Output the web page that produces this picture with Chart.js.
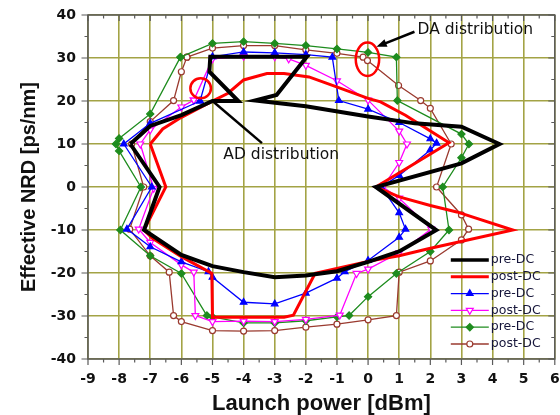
<!DOCTYPE html>
<html>
<head>
<meta charset="utf-8">
<script src="https://cdn.jsdelivr.net/npm/chart.js@4.4.0/dist/chart.umd.min.js"></script>
<style>
  body { margin: 0; background: #fff; }
  #wrap { width: 560px; height: 415px; }
</style>
</head>
<body>
<div id="wrap"><canvas id="chart" width="560" height="415"></canvas></div>
<script>
// axis ranges
const xMin = -9, xMax = 6, xStep = 0.5;
const yMin = -40, yMax = 40, yStep = 5;

const seriesNames = ['pre-DC', 'post-DC', 'pre-DC', 'post-DC', 'pre-DC', 'post-DC'];

// black, thick
const preDcAX = [-7.64, -7, -6, -5, -4.17, -5.1, -5.07, -1.97, -2.94, -3.63, -2, 0, 1.5, 3, 4.22, 3, 0.25, 2.19, 1, 0, -1, -2, -3, -4, -5, -6, -7.2, -6.7, -7.64];
const preDcAY = [10, 14.2, 16.7, 20, 20, 26.8, 30.3, 30.3, 21.4, 20.1, 18.8, 16.4, 14.8, 14, 10, 5.5, 0, -10, -15, -17.4, -19.6, -20.6, -21, -19.8, -18.4, -15.8, -10, 0, 10];

// red, thick
const postDcAX = [-7, -6.6, -6, -5.05, -4.5, -4, -3.25, -2.7, -1.9, -1.1, 0, 0.4, 1.2, 2.6, 0.25, 1, 2, 2.85, 4.65, 1.9, 1, 0, -1.7, -2.4, -2.7, -5, -5.02, -6, -6.94, -7.2, -6.5, -7];
const postDcAY = [10, 13.5, 16.2, 19.8, 21.8, 24.9, 26.4, 26.4, 25.6, 23.5, 20.6, 19.8, 16.7, 10.3, 0, -2.3, -4.3, -5.8, -10, -14.4, -16, -17.3, -20.1, -29.8, -30.3, -30.3, -20.1, -16.2, -11.9, -10, 0, 10];

// blue, filled triangles
const preDcBX = [-5.4, -5, -4, -3, -2, -1.15, -0.94, 0, 1, 2, 2.2, 2, 1, 0.42, 1, 1.2, 1, 0, -0.75, -1, -2, -3, -4, -5, -5.13, -6, -7, -7.75, -6.95, -7.85, -7, -5.4];
const preDcBY = [20, 30.3, 31.4, 31.2, 30.8, 30.2, 20.1, 18.1, 15, 11.2, 10.2, 8.6, 2.7, 0, -6, -9.8, -11.7, -17.1, -19.7, -21.2, -24.7, -27.2, -26.8, -21, -19.7, -17.4, -13.9, -9.8, 0, 10, 14.8, 20];

// magenta, open down triangles
const postDcBX = [-5.6, -5, -4, -3, -2.55, -2, -1, 0, 1, 1.25, 1, 0.48, 1, 2.03, 1, 0, -0.37, -0.91, -2, -3, -4, -5, -5.55, -5.6, -6, -7, -7.37, -6.89, -7.32, -7, -6, -5.6];
const postDcBY = [20.2, 29.8, 30.4, 30.3, 29.8, 28.3, 24.7, 20.2, 13, 10, 5.7, 0, -2.6, -9.8, -15.3, -19.1, -20.1, -29.8, -30.8, -31.3, -31.2, -31.3, -29.9, -19.8, -18.1, -12.9, -9.8, -0.3, 10, 13.3, 18.6, 20.2];

// green, filled diamonds
const preDcCX = [-6.03, -5, -4, -3, -2, -1, 0, 0.91, 0.94, 3, 3.24, 3, 2.4, 2.6, 2, 0.91, 0, -0.61, -1, -2, -3, -4, -5, -5.18, -6, -7, -7.96, -7.3, -8, -8.1, -8, -7, -6.03];
const preDcCY = [30.2, 33.4, 33.8, 33.4, 32.9, 32.1, 31.3, 30.2, 20.1, 12.3, 10, 6.8, 0, -10, -15, -20.1, -25.5, -29.9, -30.2, -31.1, -31.6, -31.6, -30.2, -29.9, -20.1, -16, -10, 0, 8.4, 10, 11.3, 17, 30.2];

// brown, open circles
const postDcCX = [-5.82, -5, -4, -3, -2, -1, -0.16, -0.02, 0.98, 1.69, 2, 2.67, 2.2, 3, 3.23, 3, 2, 1, 0.91, 0, -1, -2, -3, -4, -5, -6, -6.25, -6.39, -7, -7.66, -7.21, -7.6, -7, -6.25, -6, -5.82];
const postDcCY = [30.2, 32.3, 32.9, 32.9, 31.9, 31.1, 30.2, 29.4, 23.6, 20.1, 18.3, 10, 0, -6.5, -9.8, -12.3, -17.2, -19.8, -29.9, -30.9, -31.9, -32.6, -33.4, -33.5, -33.4, -31.3, -29.9, -19.8, -16, -9.8, 0, 10, 15.2, 20.1, 26.8, 30.2];

const pts = (xs, ys) => xs.map((x, i) => ({ x: x, y: ys[i] }));

const gridColor = '#a3a345';
const frameColor = '#5a5a5a';

// frame with outward ticks on bottom/left, inward on top/right
const frameTicks = {
    id: 'frameTicks',
    afterDraw(chart) {
        const { ctx, chartArea: a, scales: { x, y } } = chart;
        ctx.save();
        ctx.strokeStyle = frameColor;
        ctx.lineWidth = 1.5;
        ctx.strokeRect(a.left, a.top, a.right - a.left, a.bottom - a.top);
        ctx.lineWidth = 1.2;
        ctx.beginPath();
        for (let v = xMin; v <= xMax + 1e-9; v += xStep) {
            const px = x.getPixelForValue(v);
            const len = Number.isInteger(v) ? 6 : 3.5;
            ctx.moveTo(px, a.bottom); ctx.lineTo(px, a.bottom + len);
            ctx.moveTo(px, a.top); ctx.lineTo(px, a.top + len);
        }
        for (let v = yMin; v <= yMax; v += yStep) {
            const py = y.getPixelForValue(v);
            const len = v % 10 === 0 ? 6.5 : 3.5;
            ctx.moveTo(a.left, py); ctx.lineTo(a.left - len, py);
            ctx.moveTo(a.right, py); ctx.lineTo(a.right - len, py);
        }
        ctx.stroke();
        ctx.restore();
    }
};

// legend drawn inside the plot, bottom right
const legendInside = {
    id: 'legendInside',
    afterDatasetsDraw(chart) {
        const { ctx, chartArea: a } = chart;
        const x0 = a.right - 104, y0 = a.bottom - 99;
        chart.data.datasets.forEach((ds, i) => {
            const yy = y0 + i * 16.8;
            ctx.save();
            ctx.strokeStyle = ds.borderColor;
            ctx.lineWidth = Math.min(ds.borderWidth, 3.5);
            ctx.beginPath();
            ctx.moveTo(x0, yy);
            ctx.lineTo(x0 + 38, yy);
            ctx.stroke();
            if (ds.pointRadius > 0) {
                ctx.fillStyle = ds.pointBackgroundColor;
                ctx.strokeStyle = ds.pointBorderColor;
                ctx.lineWidth = ds.pointBorderWidth;
                Chart.helpers.drawPoint(ctx, {
                    pointStyle: ds.pointStyle,
                    radius: ds.pointRadius,
                    rotation: ds.pointRotation || 0,
                    borderWidth: ds.pointBorderWidth
                }, x0 + 19, yy);
            }
            ctx.fillStyle = '#15153a';
            ctx.font = '12.5px "DejaVu Sans"';
            ctx.textBaseline = 'middle';
            ctx.textAlign = 'left';
            ctx.fillText(seriesNames[i], x0 + 40, yy);
            ctx.restore();
        });
    }
};

// circles, arrows and notes
const annotations = {
    id: 'annotations',
    afterDatasetsDraw(chart) {
        const { ctx, scales: { x, y } } = chart;
        const X = v => x.getPixelForValue(v), Y = v => y.getPixelForValue(v);
        ctx.save();
        ctx.strokeStyle = '#ff0000';
        ctx.lineWidth = 2.5;
        ctx.beginPath();
        ctx.ellipse(X(-5.38), Y(22.95), 10.3, 10, 0, 0, Math.PI * 2);
        ctx.stroke();
        ctx.beginPath();
        ctx.ellipse(X(-0.02), Y(29.7), 11.7, 16.7, 0, 0, Math.PI * 2);
        ctx.stroke();

        ctx.strokeStyle = '#000';
        ctx.fillStyle = '#000';
        ctx.lineWidth = 2.5;
        ctx.beginPath();
        ctx.moveTo(X(-4.98), Y(19.9));
        ctx.lineTo(X(-3.41), Y(10.2));
        ctx.stroke();

        const ax0 = X(1.49), ay0 = Y(36.1), ax1 = X(0.27), ay1 = Y(32.6);
        const ang = Math.atan2(ay1 - ay0, ax1 - ax0);
        ctx.beginPath();
        ctx.moveTo(ax0, ay0);
        ctx.lineTo(ax1 - 6 * Math.cos(ang), ay1 - 6 * Math.sin(ang));
        ctx.stroke();
        ctx.beginPath();
        ctx.moveTo(ax1, ay1);
        ctx.lineTo(ax1 - 11 * Math.cos(ang - 0.38), ay1 - 11 * Math.sin(ang - 0.38));
        ctx.lineTo(ax1 - 11 * Math.cos(ang + 0.38), ay1 - 11 * Math.sin(ang + 0.38));
        ctx.closePath();
        ctx.fill();

        ctx.fillStyle = '#111';
        ctx.font = '15.5px "DejaVu Sans"';
        ctx.textBaseline = 'middle';
        ctx.textAlign = 'left';
        ctx.fillText('DA distribution', X(1.59), Y(36.5));
        ctx.fillText('AD distribution', X(-4.65), Y(7.44));
        ctx.restore();
    }
};

const lineSet = (label, xs, ys, color, width) => ({
    label: label,
    data: pts(xs, ys),
    showLine: true,
    borderColor: color,
    borderWidth: width,
    pointRadius: 0,
    pointHoverRadius: 0,
    tension: 0
});

const markSet = (label, xs, ys, color, style, fill, radius, rotation) => ({
    label: label,
    data: pts(xs, ys),
    showLine: true,
    borderColor: color,
    borderWidth: 1.3,
    pointStyle: style,
    pointRadius: radius,
    pointHoverRadius: radius,
    pointRotation: rotation,
    pointBackgroundColor: fill,
    pointBorderColor: color,
    pointBorderWidth: 1.2,
    tension: 0
});

const tickFont = { family: '"DejaVu Sans"', size: 14, weight: 'bold' };

new Chart(document.getElementById('chart').getContext('2d'), {
    type: 'scatter',
    data: {
        datasets: [
            lineSet(seriesNames[0], preDcAX, preDcAY, '#000000', 4),
            lineSet(seriesNames[1], postDcAX, postDcAY, '#ff0000', 3),
            markSet(seriesNames[2], preDcBX, preDcBY, '#0000ff', 'triangle', '#0000ff', 3.8, 0),
            markSet(seriesNames[3], postDcBX, postDcBY, '#ff00ff', 'triangle', '#ffffff', 4, 180),
            markSet(seriesNames[4], preDcCX, preDcCY, '#1e8c1e', 'rectRot', '#1e8c1e', 3.6, 0),
            markSet(seriesNames[5], postDcCX, postDcCY, '#9a3a2f', 'circle', '#ffffff', 3, 0)
        ]
    },
    options: {
        responsive: false,
        animation: false,
        devicePixelRatio: 1,
        layout: {
            padding: { top: 15, right: 4, left: 0, bottom: 0 }
        },
        plugins: {
            legend: { display: false },
            tooltip: { enabled: false }
        },
        scales: {
            x: {
                type: 'linear',
                min: xMin,
                max: xMax,
                afterFit: (scale) => {
                    scale.height = 56;
                    scale.paddingLeft = 0;
                    scale.paddingRight = 0;
                },
                ticks: {
                    stepSize: xStep,
                    autoSkip: false,
                    maxRotation: 0,
                    minRotation: 0,
                    padding: 12,
                    color: '#111',
                    font: tickFont,
                    callback: (v) => Number.isInteger(v) ? String(v) : ''
                },
                grid: {
                    drawTicks: false,
                    lineWidth: 1.6,
                    color: (c) => (c.tick && Number.isInteger(c.tick.value)) ? gridColor : 'rgba(0,0,0,0)'
                },
                border: { display: false },
                title: {
                    display: true,
                    text: 'Launch power [dBm]',
                    color: '#111',
                    font: { family: '"Liberation Sans", Arial', size: 22, weight: 'bold', lineHeight: 1 },
                    padding: { top: 0, bottom: 0 }
                }
            },
            y: {
                type: 'linear',
                min: yMin,
                max: yMax,
                afterFit: (scale) => {
                    scale.width = 88;
                    scale.paddingTop = 0;
                    scale.paddingBottom = 0;
                },
                ticks: {
                    stepSize: yStep,
                    autoSkip: false,
                    padding: 12,
                    color: '#111',
                    font: tickFont,
                    callback: (v) => v % 10 === 0 ? String(v) : ''
                },
                grid: {
                    drawTicks: false,
                    lineWidth: 1.6,
                    color: (c) => (c.tick && c.tick.value % 10 === 0) ? gridColor : 'rgba(0,0,0,0)'
                },
                border: { display: false },
                title: {
                    display: true,
                    text: 'Effective NRD [ps/nm]',
                    color: '#111',
                    font: { family: '"Liberation Sans", Arial', size: 20, weight: 'bold', lineHeight: 1 },
                    padding: { top: 19, bottom: 0 }
                }
            }
        }
    },
    plugins: [frameTicks, legendInside, annotations]
});
</script>
</body>
</html>
